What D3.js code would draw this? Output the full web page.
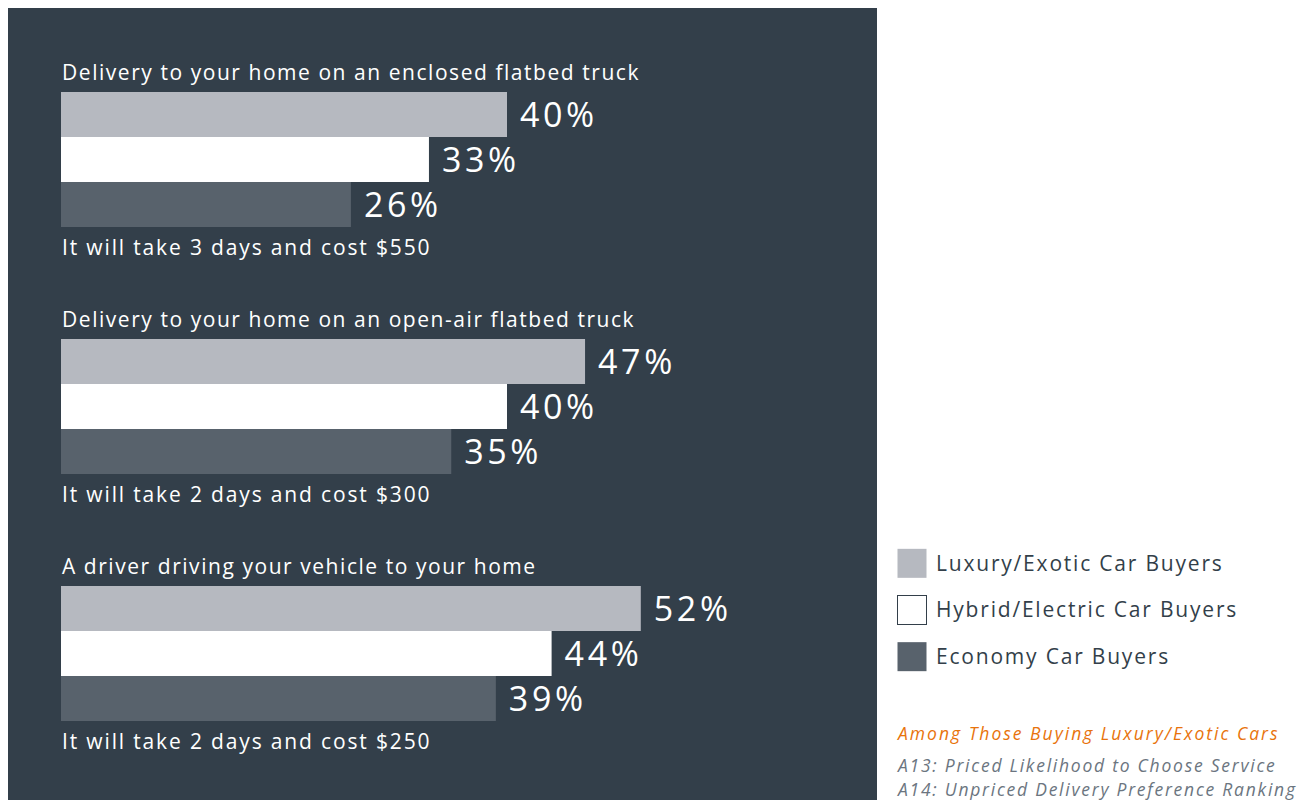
<!DOCTYPE html>
<html>
<head>
<meta charset="utf-8">
<script src="https://cdn.jsdelivr.net/npm/d3@7"></script>
<style>
  body { margin: 0; background: #ffffff; }
  svg text { font-family: "Open Sans", "Noto Sans", sans-serif; }
</style>
</head>
<body>
<div id="chart"></div>
<script>
// chart data
var questions = [
    "Delivery to your home on an enclosed flatbed truck",
    "Delivery to your home on an open-air flatbed truck",
    "A driver driving your vehicle to your home"
];
var notes = [
    "It will take 3 days and cost $550",
    "It will take 2 days and cost $300",
    "It will take 2 days and cost $250"
];
var seriesNames = ["Luxury/Exotic Car Buyers", "Hybrid/Electric Car Buyers", "Economy Car Buyers"];
var luxury = [40, 47, 52];
var hybrid = [33, 40, 44];
var economy = [26, 35, 39];
var footTitle = "Among Those Buying Luxury/Exotic Cars";
var footLines = ["A13: Priced Likelihood to Choose Service", "A14: Unpriced Delivery Preference Ranking"];

var w = 1310;
var h = 800;
var colors = ["#b6b9c0", "#ffffff", "#58626c"];

var svg = d3.select("#chart")
            .append("svg")
            .attr("width", w)
            .attr("height", h);

// dark panel
svg.append("rect")
    .attr("x", 8).attr("y", 8)
    .attr("width", 869).attr("height", 800)
    .attr("fill", "#333f4a");

// scales
var x = d3.scaleLinear().domain([0, 40]).range([61, 507]);
var groupY = d3.scaleBand().domain(questions).range([92, 92 + 247 * 3]);
var barY = d3.scaleBand().domain([0, 1, 2]).range([0, 135]);

var rows = [];
questions.forEach(function(q, i) {
    [luxury, hybrid, economy].forEach(function(s, j) {
        rows.push({q: q, s: j, v: s[i]});
    });
});

var groups = svg.selectAll("g.group")
    .data(questions)
    .enter()
    .append("g")
    .attr("class", "group")
    .attr("transform", function(d) { return "translate(0," + groupY(d) + ")"; });

groups.append("text")
    .text(function(d) { return d; })
    .attr("x", 62)
    .attr("y", -12)
    .attr("fill", "#ffffff")
    .attr("font-size", "21px")
    .attr("letter-spacing", "1.55px");

groups.append("text")
    .text(function(d, i) { return notes[i]; })
    .attr("x", 62)
    .attr("y", 163)
    .attr("fill", "#ffffff")
    .attr("font-size", "21px")
    .attr("letter-spacing", "1.85px");

svg.selectAll("rect.bar")
    .data(rows)
    .enter()
    .append("rect")
    .attr("class", "bar")
    .attr("x", x(0))
    .attr("y", function(d) { return groupY(d.q) + barY(d.s); })
    .attr("width", function(d) { return x(d.v) - x(0); })
    .attr("height", barY.bandwidth())
    .attr("fill", function(d) { return colors[d.s]; });

svg.selectAll("text.val")
    .data(rows)
    .enter()
    .append("text")
    .attr("class", "val")
    .text(function(d) { return d.v + "%"; })
    .attr("x", function(d) { return x(d.v) + 13; })
    .attr("y", function(d) { return groupY(d.q) + barY(d.s) + barY.bandwidth() / 2; })
    .attr("dy", "0.355em")
    .attr("fill", "#ffffff")
    .attr("font-size", "34px")
    .attr("letter-spacing", "3.6px");

// legend
var legY = d3.scaleBand().domain(seriesNames).range([540, 680]);
var leg = svg.selectAll("g.leg")
    .data(seriesNames)
    .enter()
    .append("g")
    .attr("class", "leg")
    .attr("transform", function(d) { return "translate(897," + (legY(d) + legY.bandwidth() / 2) + ")"; });

leg.append("rect")
    .attr("x", 0.5).attr("y", -14.5)
    .attr("width", 29).attr("height", 29)
    .attr("fill", function(d, i) { return colors[i]; })
    .attr("stroke", function(d, i) { return i == 1 ? "#333f4a" : "none"; })
    .attr("stroke-width", 1);

leg.append("text")
    .text(function(d) { return d; })
    .attr("x", 39)
    .attr("y", 0)
    .attr("dy", "0.35em")
    .attr("fill", "#333f4a")
    .attr("font-size", "21px")
    .attr("letter-spacing", "1.8px");

svg.append("text")
    .text(footTitle)
    .attr("x", 898)
    .attr("y", 740)
    .attr("fill", "#e8730c")
    .attr("font-style", "italic")
    .attr("font-size", "17.5px")
    .attr("letter-spacing", "2px");

svg.selectAll("text.foot")
    .data(footLines)
    .enter()
    .append("text")
    .attr("class", "foot")
    .text(function(d) { return d; })
    .attr("x", 898)
    .attr("y", function(d, i) { return 772 + i * 24; })
    .attr("fill", "#6b7580")
    .attr("font-style", "italic")
    .attr("font-size", "17.5px")
    .attr("letter-spacing", "1.75px");
</script>
</body>
</html>
